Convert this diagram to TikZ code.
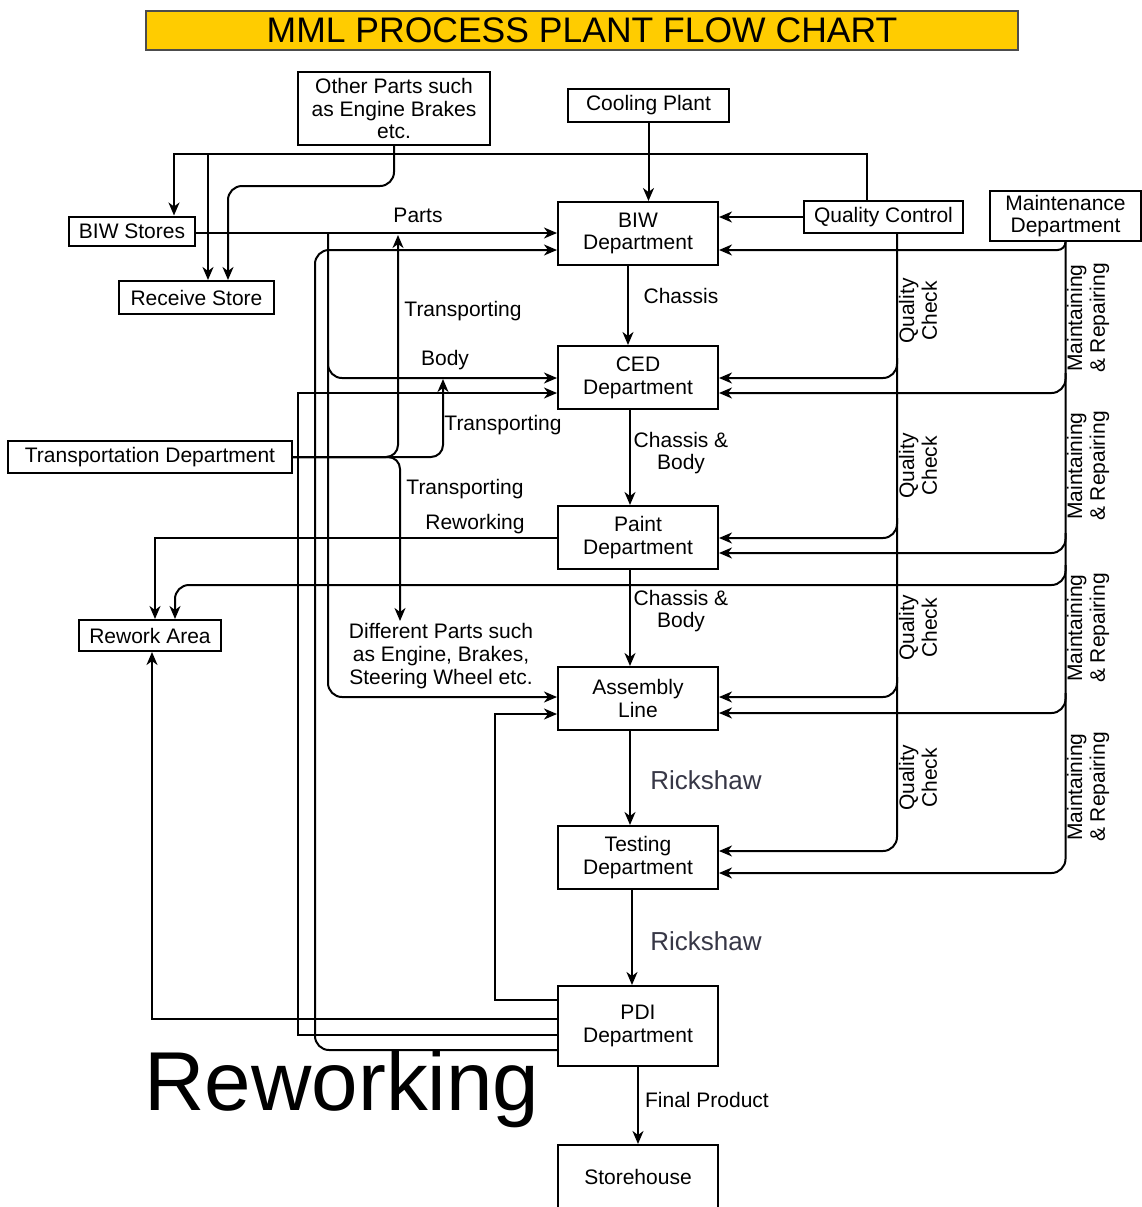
\documentclass[tikz,border=0pt]{standalone}
\usepackage{fontspec}
\setmainfont{Liberation Sans}
\usetikzlibrary{arrows.meta}
\definecolor{titleyellow}{RGB}{255,204,0}
\definecolor{rickgray}{RGB}{55,55,70}
\begin{document}
\begin{tikzpicture}[x=0.5pt,y=-0.5pt,
  every node/.style={font=\fontsize{10.5pt}{11.4pt}\selectfont, inner sep=1pt},
  box/.style={draw=black, line width=1pt, align=center, inner sep=2pt},
  dept/.style={box, minimum width=80pt, minimum height=31.5pt},
  lbl/.style={align=center},
  rot/.style={align=center, rotate=90},
  rick/.style={font=\fontsize{13pt}{15pt}\selectfont, text=rickgray},
  wire/.style={line width=1pt},
  conn/.style={wire, -{Stealth[length=6.5pt,width=5.5pt,inset=2pt]}},
  rc/.style={rounded corners=7pt}
]
\useasboundingbox (0,0) rectangle (1142,1207);
\clip (0,0) rectangle (1142,1207);
\fill[white] (0,0) rectangle (1142,1207);

% title
\node[box, fill=titleyellow, draw=black!70, line width=0.8pt, minimum width=436pt, minimum height=19.5pt,
  font=\fontsize{17.75pt}{20pt}\selectfont] (title) at (582,30.5) {MML PROCESS PLANT FLOW CHART};

% boxes
\node[box, minimum width=96pt, minimum height=36.5pt] (other) at (394,108.5) {Other Parts such\\as Engine Brakes\\etc.};
\node[box, minimum width=80.5pt, minimum height=16.5pt] (cool) at (648.5,105.5) {Cooling Plant};
\node[box, minimum width=63pt, minimum height=14.5pt] (bstores) at (132,231) {BIW Stores};
\node[box, minimum width=77.5pt, minimum height=16.5pt] (receive) at (196.5,297.5) {Receive Store};
\node[dept] (biw) at (638,233.5) {BIW\\Department};
\node[box, minimum width=79.5pt, minimum height=16pt] (qc) at (883.5,217) {Quality Control};
\node[box, minimum width=75.5pt, minimum height=24pt] (maint) at (1065.5,216) {Maintenance\\Department};
\node[dept] (ced) at (638,377.5) {CED\\Department};
\node[box, minimum width=142pt, minimum height=16pt] (trans) at (150,457) {Transportation Department};
\node[dept] (paint) at (638,537.5) {Paint\\Department};
\node[box, minimum width=71pt, minimum height=15.5pt] (rework) at (150,635.5) {Rework Area};
\node[lbl] (diff) at (441,656) {Different Parts such\\as Engine, Brakes,\\Steering Wheel etc.};
\node[dept] (assembly) at (638,698.5) {Assembly\\Line};
\node[dept] (testing) at (638,857.5) {Testing\\Department};
\node[dept, minimum height=40pt] (pdi) at (638,1026) {PDI\\Department};
\node[dept, minimum height=32pt] (store) at (638,1177) {Storehouse};

% main flow
\draw[conn] (cool.south) -- (cool.south |- biw.north);
\draw[conn] (biw.south -| 628,0) -- (628,0 |- ced.north);
\draw[conn] (ced.south -| 630,0) -- (630,0 |- paint.north);
\draw[conn] (paint.south -| 630,0) -- (630,0 |- assembly.north);
\draw[conn] (assembly.south -| 630,0) -- (630,0 |- testing.north);
\draw[conn] (testing.south -| 632,0) -- (632,0 |- pdi.north);
\draw[conn] (pdi.south) -- (store.north);

% quality control to stores
\coordinate (jr) at (208,154);
\draw[conn] (867,0 |- qc.north) -- (867,154) -- (174,154) -- (174,0 |- bstores.north);
\draw[conn] (jr) -- (jr |- receive.north);
\draw[conn, rc] (other.south) -- (394,186) -- (228,186) -- (228,0 |- receive.north);
\draw[conn] (qc.west) -- (qc.west -| biw.east);

% parts from BIW stores
\coordinate (jp) at (328,233);
\draw[conn] (bstores.east |- jp) -- (biw.west |- jp);
\draw[conn, rc] (jp) -- (328,697) -- (assembly.west |- 0,697);
\draw[conn, rc] (328,350) -- (328,378) -- (ced.west |- 0,378);

% reworking from PDI
\draw[conn, rc] (pdi.west |- 0,1050) -- (315,1050) -- (315,250) -- (biw.west |- 0,250);
\draw[conn] (pdi.west |- 0,1035) -- (298,1035) -- (298,393) -- (ced.west |- 0,393);
\draw[conn] (pdi.west |- 0,1019) -- (152,1019) -- (152,0 |- rework.south);
\draw[conn] (pdi.west |- 0,1000) -- (495,1000) -- (495,714) -- (assembly.west |- 0,714);
\draw[conn] (paint.west |- 0,538) -- (155,538) -- (155,0 |- rework.north);

% transportation
\draw[conn, rounded corners=6pt] (trans.east) -- (398,457) -- (398,235);
\draw[conn, rounded corners=6pt] (trans.east) -- (443,457) -- (443,379);
\draw[conn, rounded corners=6pt] (trans.east) -- (400,457) -- (400,0 |- diff.north);

% quality check trunk
\draw[conn, rc] (897,0 |- qc.south) -- (897,851) -- (testing.east |- 0,851);
\foreach \yy/\nn in {378/ced, 538/paint, 697/assembly}
  \draw[conn, rc] (897,\yy-20) -- (897,\yy) -- (\nn.east |- 0,\yy);

% maintenance trunk
\draw[conn, rc] (maint.south) -- (1065.5,873) -- (testing.east |- 0,873);
\draw[conn, rounded corners=4pt] (maint.south) -- (1065.5,250) -- (biw.east |- 0,250);
\foreach \yy/\nn in {393/ced, 553/paint, 713/assembly}
  \draw[conn, rc] (1065.5,\yy-20) -- (1065.5,\yy) -- (\nn.east |- 0,\yy);
\draw[conn, rc] (1065.5,565) -- (1065.5,585) -- (175,585) -- (175,0 |- rework.north);

% labels
\node (lparts) at (418,215) {Parts};
\node (ltr1) at (463,311) {Transporting};
\node (lbody) at (445,360) {Body};
\node (ltr2) at (503,425) {Transporting};
\node (ltr3) at (465,489) {Transporting};
\node (lrew) at (475,524) {Reworking};
\node (lch1) at (681,296) {Chassis};
\node[lbl] (lch2) at (681,453) {Chassis \&\\Body};
\node[lbl] (lch3) at (681,611) {Chassis \&\\Body};
\node[rick] (lri1) at (706,780) {Rickshaw};
\node[rick] (lri2) at (706,941) {Rickshaw};
\node (lfin) at (707,1100) {Final Product};

\node[rot] (qk1) at (918,311) {Quality\\Check};
\node[rot] (qk2) at (918,466) {Quality\\Check};
\node[rot] (qk3) at (918,628) {Quality\\Check};
\node[rot] (qk4) at (918,778) {Quality\\Check};
\node[rot] (mr1) at (1088,318) {Maintaining\\\& Repairing};
\node[rot] (mr2) at (1088,466) {Maintaining\\\& Repairing};
\node[rot] (mr3) at (1088,628) {Maintaining\\\& Repairing};
\node[rot] (mr4) at (1088,787) {Maintaining\\\& Repairing};

\node[font=\fontsize{41.8pt}{44pt}\selectfont, anchor=base] (bigrew) at (342,1110) {Reworking};
\end{tikzpicture}
\end{document}
